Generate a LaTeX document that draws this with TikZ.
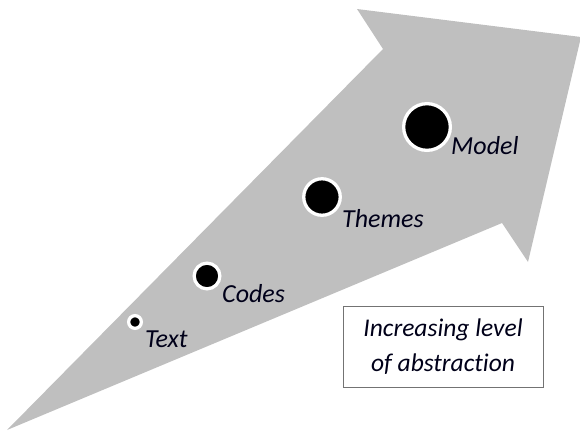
\documentclass[tikz,border=0pt]{standalone}
\usepackage{fontspec}
\setmainfont{Carlito}[Ligatures={NoCommon,NoRare}]
\begin{document}
\begin{tikzpicture}[x=1pt,y=-1pt,
  stage/.style={circle,fill=black,draw=white,line width=3.3pt,inner sep=0pt},
  stagelabel/.style={anchor=base west,inner sep=0pt,font=\fontsize{26}{30}\selectfont\itshape,text=black!90!blue},
  notebox/.style={draw=black!55,line width=0.9pt,fill=white,minimum width=200pt,minimum height=81pt,
    align=center,inner sep=0pt,font=\fontsize{25.5}{35}\selectfont\itshape,text=black!90!blue}]
  \useasboundingbox (0,0) rectangle (580,432);
  % broad arrow rising from the lower left
  \fill[black!25] (7,430) -- (383,49) -- (357,9) -- (581,37) -- (528,262) -- (502,223) -- cycle;
  % stages, growing along the arrow
  \node[stage,minimum size=12.7pt] (text) at (135,322) {};
  \node[stage,minimum size=25.7pt] (codes) at (207,276) {};
  \node[stage,minimum size=36.5pt] (themes) at (322,197) {};
  \node[stage,minimum size=46.7pt] (model) at (427,127) {};
  \node[stagelabel] (textlabel) at (145,347) {Text};
  \node[stagelabel] (codeslabel) at (222,302) {Codes};
  \node[stagelabel] (themeslabel) at (342,227) {Themes};
  \node[stagelabel] (modellabel) at (451,154) {Model};
  % caption box
  \node[notebox] (abstraction) at (443,346.5) {Increasing level\\of abstraction};
\end{tikzpicture}
\end{document}
